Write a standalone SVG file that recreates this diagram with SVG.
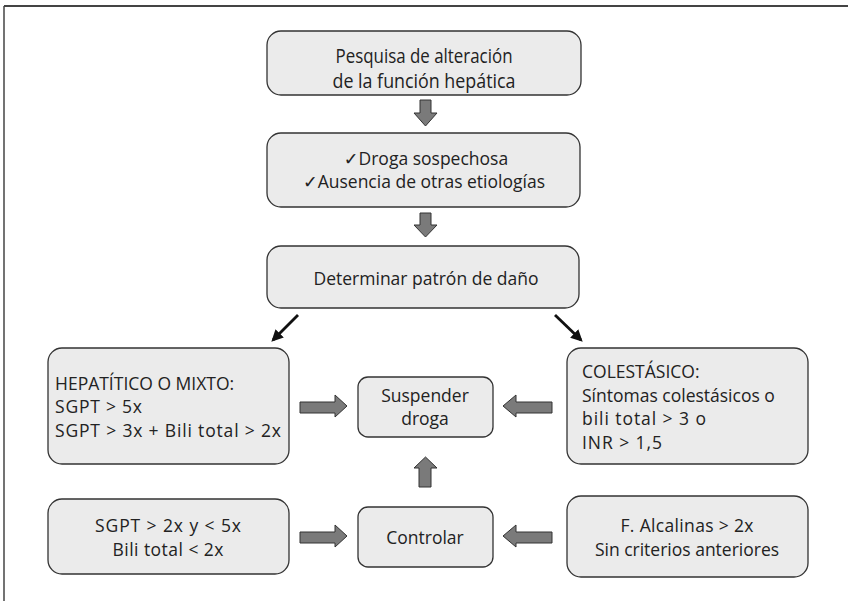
<svg xmlns="http://www.w3.org/2000/svg" width="848" height="601" viewBox="0 0 848 601">
<style>
.box{fill:#ebebeb;stroke:#333;stroke-width:1.3}
.t{font-family:"Open Sans","Noto Sans","DejaVu Sans",sans-serif;font-size:17.5px;fill:#222}
.c{text-anchor:middle}
.big{font-size:20px}
.fat{fill:#7a7a7a;stroke:#333;stroke-width:1}
.diag{stroke:#111;stroke-width:2.8;fill:none}
</style>
<defs>
<marker id="ah" viewBox="0 0 10 10" refX="8" refY="5" markerWidth="4.2" markerHeight="4.2" orient="auto" markerUnits="strokeWidth">
<path d="M0,0 L10,5 L0,10 Z" fill="#111"/>
</marker>
</defs>
<g id="frame">
<line x1="4" y1="6" x2="848" y2="6" stroke="#444" stroke-width="2"/>
<line x1="4" y1="6" x2="4" y2="601" stroke="#444" stroke-width="1.5"/>
</g>
<g id="n1">
<rect class="box" x="267" y="31" width="314" height="64" rx="14"/>
<text class="t c big" x="424" y="63" textLength="177" lengthAdjust="spacingAndGlyphs">Pesquisa de alteración</text>
<text class="t c big" x="424" y="88" textLength="183" lengthAdjust="spacingAndGlyphs">de la función hepática</text>
</g>
<g id="n2">
<rect class="box" x="267" y="133" width="313" height="74" rx="14"/>
<text class="t c" x="426" y="165">✓Droga sospechosa</text>
<text class="t c" x="424" y="188">✓Ausencia de otras etiologías</text>
</g>
<g id="n3">
<rect class="box" x="267" y="246" width="312" height="62" rx="14"/>
<text class="t c" x="426" y="285">Determinar patrón de daño</text>
</g>
<g id="n4">
<rect class="box" x="48" y="348" width="241" height="116" rx="14"/>
<text class="t" x="55" y="390">HEPATÍTICO O MIXTO:</text>
<text class="t" x="55" y="413" textLength="87">SGPT &gt; 5x</text>
<text class="t" x="55" y="437" textLength="226">SGPT &gt; 3x + Bili total &gt; 2x</text>
</g>
<g id="n5">
<rect class="box" x="567" y="348" width="241" height="116" rx="14"/>
<text class="t" x="582" y="378">COLESTÁSICO:</text>
<text class="t" x="582" y="402">Síntomas colestásicos o</text>
<text class="t" x="582" y="425" textLength="124">bili total &gt; 3  o</text>
<text class="t" x="582" y="449" textLength="80">INR &gt; 1,5</text>
</g>
<g id="n6">
<rect class="box" x="358" y="377" width="135" height="60" rx="10"/>
<text class="t c" x="425" y="402">Suspender</text>
<text class="t c" x="425" y="425">droga</text>
</g>
<g id="n7">
<rect class="box" x="358" y="507" width="135" height="60" rx="10"/>
<text class="t c" x="425" y="544">Controlar</text>
</g>
<g id="n8">
<rect class="box" x="48" y="499" width="241" height="75" rx="14"/>
<text class="t c" x="168" y="532" textLength="146">SGPT &gt; 2x y &lt; 5x</text>
<text class="t c" x="168" y="556" textLength="111">Bili total &lt; 2x</text>
</g>
<g id="n9">
<rect class="box" x="567" y="496" width="241" height="81" rx="14"/>
<text class="t c" x="687" y="532" textLength="133">F. Alcalinas &gt; 2x</text>
<text class="t c" x="687" y="556">Sin criterios anteriores</text>
</g>
<g id="connectors">
<polygon class="fat" points="420,100 431,100 431,113 437,113 425.5,126 414,113 420,113"/>
<polygon class="fat" points="420,213 431,213 431,225 437,225 425.5,237 414,225 420,225"/>
<line class="diag" x1="298" y1="315" x2="273" y2="340" marker-end="url(#ah)"/>
<line class="diag" x1="555" y1="315" x2="581" y2="340" marker-end="url(#ah)"/>
<polygon class="fat" points="300,402 335,402 335,395 347,406 335,417 335,413 300,413"/>
<polygon class="fat" points="552,402 516,402 516,395 503,406 516,417 516,413 552,413"/>
<polygon class="fat" points="419,487 431,487 431,468 437,468 425.5,457 414,468 419,468"/>
<polygon class="fat" points="300,532 335,532 335,525 347,536 335,547 335,543 300,543"/>
<polygon class="fat" points="552,532 516,532 516,525 503,536 516,547 516,543 552,543"/>
</g>
</svg>
